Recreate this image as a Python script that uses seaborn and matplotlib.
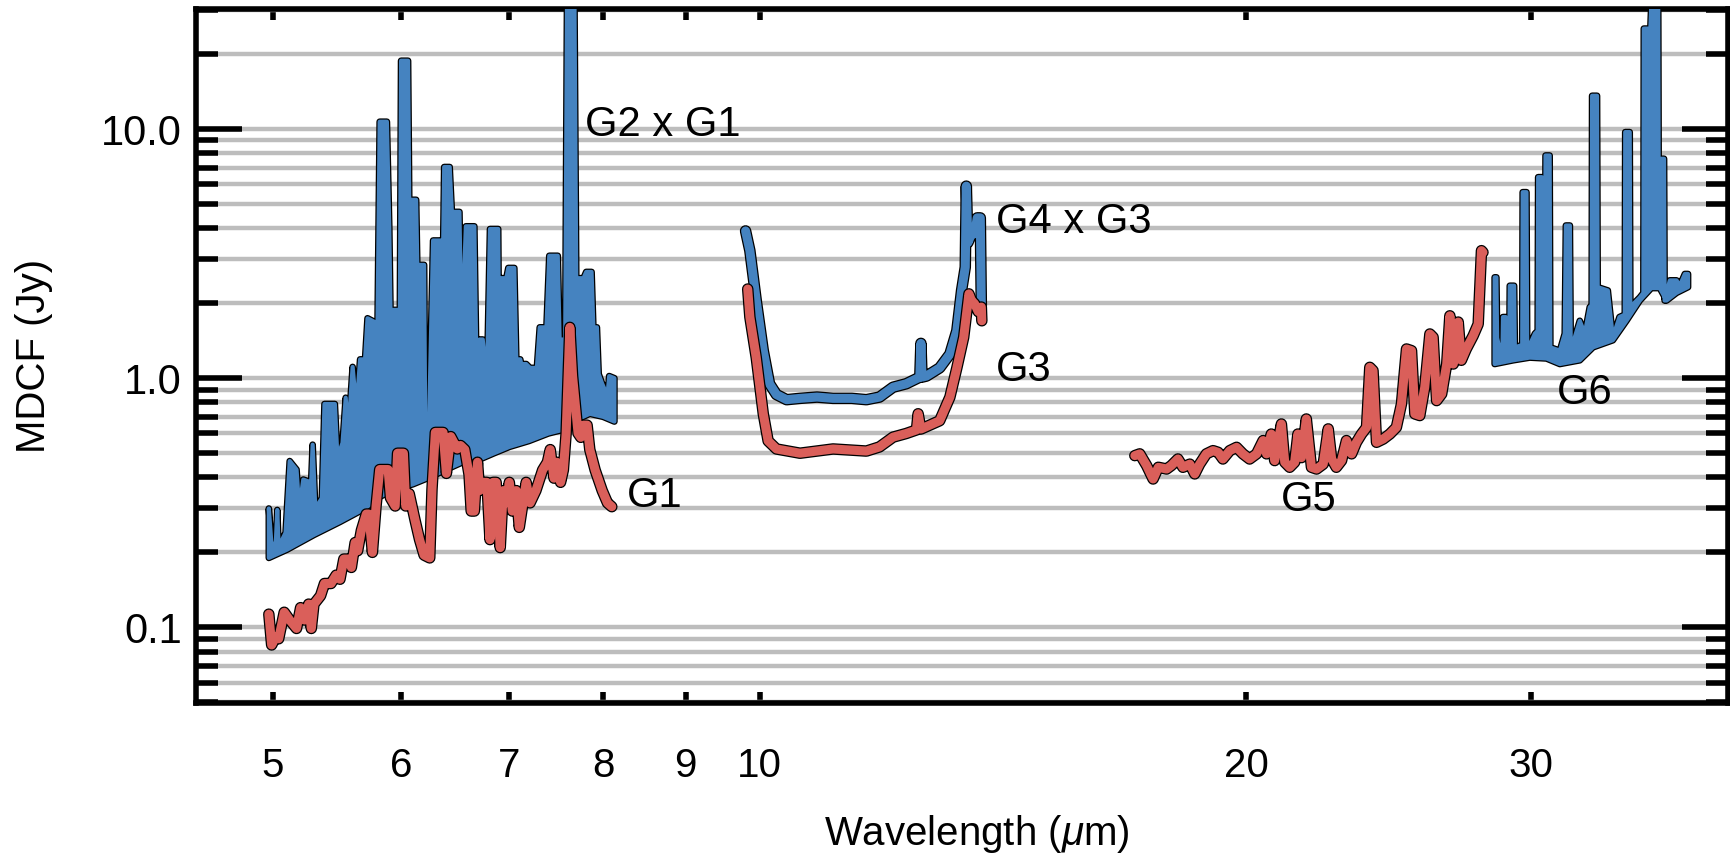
import matplotlib
matplotlib.use("Agg")
import matplotlib.pyplot as plt
import matplotlib.patheffects as pe
from matplotlib.ticker import FixedLocator, FixedFormatter, LogLocator, NullFormatter, NullLocator
import numpy as np
import seaborn as sns

# --- G2 x G1 (blue, drawn as a filled band: spiky top edge + continuum floor) ---
g21_lam = [4.97, 4.99, 5.02, 5.03, 5.04, 5.09, 5.12, 5.17, 5.19, 5.22,
           5.26, 5.27, 5.29, 5.31, 5.36, 5.38, 5.46, 5.48, 5.52, 5.545,
           5.565, 5.60, 5.63, 5.66, 5.70, 5.72, 5.78, 5.80, 5.82, 5.88,
           5.90, 5.91, 5.99, 6.00, 6.06, 6.07, 6.13, 6.14, 6.20, 6.21,
           6.24, 6.28, 6.35, 6.36, 6.38, 6.43, 6.45, 6.52, 6.54, 6.58,
           6.66, 6.68, 6.71, 6.74, 6.78, 6.81, 6.89, 6.90, 6.91, 6.97,
           6.99, 7.05, 7.07, 7.11, 7.12, 7.17, 7.21, 7.28, 7.31, 7.38,
           7.41, 7.50, 7.52, 7.58, 7.60, 7.68, 7.70, 7.78, 7.81, 7.87,
           7.89, 7.93, 7.95, 7.99, 8.05, 8.07, 8.13]
g21_top = [0.30, 0.21, 0.22, 0.296, 0.21, 0.24, 0.465, 0.43, 0.30, 0.392,
           0.385, 0.29, 0.541, 0.30, 0.33, 0.788, 0.788, 0.48, 0.55, 0.835,
           0.60, 1.11, 0.75, 1.19, 1.19, 1.74, 1.68, 1.30, 10.7, 10.7,
           4.0, 1.88, 1.88, 18.8, 18.8, 5.2, 5.2, 2.85, 2.85, 0.63,
           0.55, 3.57, 3.57, 1.5, 7.04, 7.04, 4.65, 4.65, 1.4, 4.07,
           4.07, 1.1, 1.43, 1.43, 0.95, 3.97, 3.97, 1.1, 2.52, 2.52,
           2.77, 2.77, 1.19, 1.19, 1.14, 1.14, 1.10, 1.10, 1.60, 1.60,
           3.10, 3.10, 1.43, 1.43, 35.0, 35.0, 2.52, 2.52, 2.67, 2.67,
           1.60, 1.60, 1.04, 0.95, 0.85, 1.02, 1.00]
g21_low_lam = [4.97, 5.10, 5.30, 5.50, 5.70, 5.80, 5.95, 6.10, 6.25, 6.40, 6.55,
               6.70, 6.85, 7.00, 7.20, 7.40, 7.55, 7.62, 7.70, 7.85, 8.00, 8.13]
g21_low = [0.19, 0.205, 0.235, 0.265, 0.30, 0.33, 0.36, 0.375, 0.40, 0.43, 0.46,
           0.47, 0.50, 0.53, 0.56, 0.60, 0.62, 0.75, 0.68, 0.72, 0.70, 0.67]

# --- G1 (red) ---
g1_lam = [4.97, 4.99, 5.02, 5.04, 5.08, 5.12, 5.17, 5.20, 5.23, 5.26,
          5.28, 5.30, 5.35, 5.38, 5.43, 5.47, 5.50, 5.53, 5.57, 5.59,
          5.62, 5.64, 5.67, 5.71, 5.73, 5.76, 5.79, 5.82, 5.89, 5.91,
          5.95, 5.97, 6.02, 6.04, 6.07, 6.12, 6.16, 6.20, 6.25, 6.27,
          6.30, 6.37, 6.40, 6.44, 6.50, 6.53, 6.57, 6.61, 6.63, 6.66,
          6.69, 6.71, 6.74, 6.78, 6.81, 6.84, 6.87, 6.91, 6.94, 6.97,
          7.00, 7.03, 7.07, 7.10, 7.17, 7.21, 7.27, 7.34, 7.39, 7.42,
          7.46, 7.49, 7.53, 7.56, 7.59, 7.63, 7.66, 7.72, 7.75, 7.78,
          7.82, 7.85, 7.91, 7.99, 8.05, 8.10]
g1_val = [0.113, 0.085, 0.092, 0.09, 0.115, 0.107, 0.099, 0.12, 0.107, 0.124,
          0.099, 0.124, 0.134, 0.15, 0.15, 0.162, 0.156, 0.188, 0.188, 0.174,
          0.219, 0.203, 0.245, 0.285, 0.285, 0.20, 0.307, 0.43, 0.43, 0.331,
          0.307, 0.50, 0.50, 0.307, 0.344, 0.27, 0.225, 0.195, 0.19, 0.357,
          0.606, 0.606, 0.415, 0.583, 0.52, 0.537, 0.517, 0.41, 0.293, 0.293,
          0.46, 0.354, 0.382, 0.382, 0.225, 0.382, 0.382, 0.209, 0.354, 0.316,
          0.382, 0.293, 0.354, 0.252, 0.382, 0.316, 0.354, 0.428, 0.46, 0.517,
          0.397, 0.46, 0.382, 0.428, 0.601, 1.60, 1.02, 0.601, 0.579, 0.648,
          0.648, 0.517, 0.428, 0.354, 0.316, 0.305]

# --- G4 x G3 (blue) and G3 (red) ---
g4_lam = [9.80, 9.86, 9.95, 10.05, 10.14, 10.24, 10.39, 10.59, 10.85, 11.10,
          11.40, 11.64, 11.86, 12.09, 12.32, 12.56, 12.58, 12.60, 12.68, 12.92,
          13.11, 13.24, 13.33, 13.40, 13.42, 13.45, 13.52, 13.58, 13.63, 13.69,
          13.71]
g4_val = [3.9, 3.25, 2.05, 1.29, 0.95, 0.86, 0.82, 0.83, 0.84, 0.83,
          0.83, 0.82, 0.84, 0.92, 0.95, 1.01, 1.38, 1.01, 1.02, 1.10,
          1.25, 1.55, 2.25, 2.79, 5.9, 3.5, 3.8, 3.8, 4.4, 4.4,
          1.96]
g3_lam = [9.83, 9.86, 9.95, 10.05, 10.12, 10.24, 10.59, 11.10, 11.64, 11.86,
          12.09, 12.32, 12.50, 12.53, 12.58, 12.92, 13.11, 13.24, 13.37, 13.47,
          13.52, 13.58, 13.65, 13.71, 13.72]
g3_val = [2.28, 1.76, 1.21, 0.72, 0.56, 0.52, 0.50, 0.52, 0.51, 0.53,
          0.58, 0.60, 0.62, 0.72, 0.625, 0.675, 0.84, 1.10, 1.46, 2.18,
          2.05, 1.99, 1.85, 1.93, 1.70]

# --- G5 (red) ---
g5_lam = [17.06, 17.18, 17.35, 17.51, 17.64, 17.85, 17.97, 18.14, 18.27, 18.45,
          18.58, 18.71, 18.89, 19.07, 19.21, 19.34, 19.53, 19.72, 19.90, 20.09,
          20.29, 20.48, 20.58, 20.72, 20.82, 21.02, 21.12, 21.27, 21.42, 21.52,
          21.63, 21.78, 21.94, 22.10, 22.31, 22.47, 22.58, 22.73, 22.90, 23.06,
          23.23, 23.39, 23.56, 23.73, 23.84, 23.95, 24.07, 24.30, 24.53, 24.76,
          24.94, 25.12, 25.30, 25.42, 25.60, 25.78, 25.97, 26.09, 26.22, 26.41,
          26.60, 26.72, 26.85, 27.04, 27.16, 27.35, 27.62, 27.82, 27.95, 28.01]
g5_val = [0.489, 0.497, 0.446, 0.394, 0.439, 0.432, 0.446, 0.474, 0.439, 0.452,
          0.413, 0.452, 0.497, 0.512, 0.504, 0.474, 0.512, 0.528, 0.497, 0.474,
          0.497, 0.562, 0.497, 0.597, 0.467, 0.655, 0.46, 0.439, 0.46, 0.597,
          0.48, 0.686, 0.439, 0.432, 0.452, 0.626, 0.474, 0.439, 0.467, 0.562,
          0.497, 0.553, 0.597, 0.635, 1.106, 1.073, 0.553, 0.570, 0.597, 0.635,
          0.788, 1.31, 1.29, 0.719, 0.708, 0.919, 1.505, 1.46, 0.813, 0.865,
          1.14, 1.78, 1.14, 1.68, 1.18, 1.31, 1.48, 1.65, 3.25, 3.20]

# --- G6 (blue band) ---
g6_lam = [28.48, 28.55, 28.58, 28.69, 28.80, 28.82, 28.93, 28.96, 29.08, 29.10,
          29.28, 29.31, 29.62, 29.64, 29.80, 29.83, 30.16, 30.28, 30.30, 30.46,
          30.49, 30.60, 30.62, 30.80, 30.83, 31.25, 31.47, 31.52, 31.70, 31.74,
          32.15, 32.38, 32.61, 32.70, 32.72, 32.95, 32.98, 33.46, 33.70, 34.02,
          34.28, 34.30, 34.52, 34.55, 35.02, 35.20, 35.22, 35.55, 35.60, 35.95,
          35.98, 36.10, 36.12, 36.25, 36.28, 36.55, 36.90, 37.07, 37.34, 37.51]
g6_top = [2.54, 2.54, 1.45, 1.30, 1.30, 1.76, 1.76, 1.30, 1.30, 2.35,
          2.35, 1.33, 1.36, 5.58, 5.58, 1.29, 1.51, 1.55, 6.41, 6.41,
          2.05, 2.05, 7.83, 7.83, 1.33, 1.29, 1.51, 4.10, 4.10, 1.29,
          1.70, 1.51, 1.93, 1.95, 13.6, 13.6, 2.32, 2.25, 1.46, 1.76,
          1.80, 9.72, 9.72, 1.93, 2.11, 2.2, 25.3, 25.3, 32.0, 32.0,
          4.04, 4.04, 7.60, 7.60, 2.05, 2.47, 2.47, 2.35, 2.62, 2.62]
g6_low_lam = [28.48, 29.24, 29.94, 30.66, 31.25, 32.15, 32.76, 33.70,
              34.36, 35.02, 35.60, 36.03, 36.38, 36.90, 37.51]
g6_low = [1.14, 1.18, 1.21, 1.20, 1.14, 1.18, 1.33, 1.42,
          1.70, 2.05, 2.3, 2.3, 2.05, 2.20, 2.32]

# tick labels / annotations
x_ticks = [5, 6, 7, 8, 9, 10, 20, 30]
x_ticklabels = ["5", "6", "7", "8", "9", "10", "20", "30"]
y_ticks = [0.1, 1.0, 10.0]
y_ticklabels = ["0.1", "1.0", "10.0"]
labels = ["G2 x G1", "G1", "G4 x G3", "G3", "G5", "G6"]
label_x = [7.80, 8.28, 14.0, 14.0, 21.0, 31.1]
label_y = [9.4, 0.305, 3.84, 0.978, 0.294, 0.79]

BLUE = "#4583c0"
RED = "#da5f5a"
GRID = "#bdbdbd"
LW = 6.5      # single spectra
BAND_LW = 3.0  # edge of the dense (filled) spectra


def outline(lw):
    return [pe.Stroke(linewidth=lw + 1.8, foreground="black"), pe.Normal()]


sns.set_theme(style="ticks")
plt.rcParams["font.family"] = ["Liberation Sans", "DejaVu Sans"]
plt.rcParams["mathtext.fontset"] = "custom"
plt.rcParams["mathtext.it"] = "Liberation Sans:italic"
plt.rcParams["mathtext.rm"] = "Liberation Sans"
for key in ["text.color", "axes.labelcolor", "xtick.color", "ytick.color", "axes.edgecolor"]:
    plt.rcParams[key] = "black"

fig = plt.figure(figsize=(17.31, 8.56), dpi=100)
ax = fig.add_axes([0.1132, 0.1787, 0.885, 0.8107])
ax.set_xscale("log")
ax.set_yscale("log")
ax.set_xlim(4.48, 39.7)
ax.set_ylim(0.0497, 30.3)


def band(lam, top, low_lam, low):
    # dense spectra: fill between spike tops and continuum, edged like a line
    xs = np.concatenate([lam, low_lam[::-1]])
    ys = np.concatenate([top, low[::-1]])
    ax.fill(xs, ys, facecolor=BLUE, edgecolor=BLUE, lw=BAND_LW,
            joinstyle="round", zorder=3, path_effects=outline(BAND_LW))


def spectrum(lam, val, color):
    sns.lineplot(x=lam, y=val, ax=ax, color=color, lw=LW, estimator=None,
                 sort=False, zorder=4, path_effects=outline(LW))


band(g21_lam, g21_top, g21_low_lam, g21_low)
spectrum(g1_lam, g1_val, RED)
spectrum(g4_lam, g4_val, BLUE)
spectrum(g3_lam, g3_val, RED)
spectrum(g5_lam, g5_val, RED)
band(g6_lam, g6_top, g6_low_lam, g6_low)

# axes / ticks
ax.xaxis.set_major_locator(FixedLocator(x_ticks))
ax.xaxis.set_major_formatter(FixedFormatter(x_ticklabels))
ax.xaxis.set_minor_locator(NullLocator())
ax.yaxis.set_major_locator(FixedLocator(y_ticks))
ax.yaxis.set_major_formatter(FixedFormatter(y_ticklabels))
ax.yaxis.set_minor_locator(LogLocator(base=10, subs=np.arange(2, 10), numticks=20))
ax.yaxis.set_minor_formatter(NullFormatter())

ax.yaxis.grid(True, which="both", color=GRID, lw=3.2)
ax.xaxis.grid(False)
ax.set_axisbelow(True)

ax.tick_params(axis="y", which="major", direction="in", left=True, right=True,
               length=33, width=4, labelsize=30, pad=10)
ax.tick_params(axis="y", which="minor", direction="in", left=True, right=True,
               length=16, width=4)
ax.tick_params(axis="x", which="major", direction="in", top=True, bottom=True,
               length=8, width=4, labelsize=29, pad=32)
for s in ax.spines.values():
    s.set_visible(True)
    s.set_linewidth(4)
    s.set_color("black")

ax.set_xlabel("Wavelength ($\\mu$m)", fontsize=29)
ax.set_ylabel("MDCF (Jy)", fontsize=29)
ax.xaxis.set_label_coords(0.51, -0.158)
ax.yaxis.set_label_coords(-0.093, 0.5)

for txt, x, y in zip(labels, label_x, label_y):
    ax.text(x, y, txt, fontsize=30, ha="left", va="baseline", zorder=5)

fig.savefig("out.png", dpi=100)
